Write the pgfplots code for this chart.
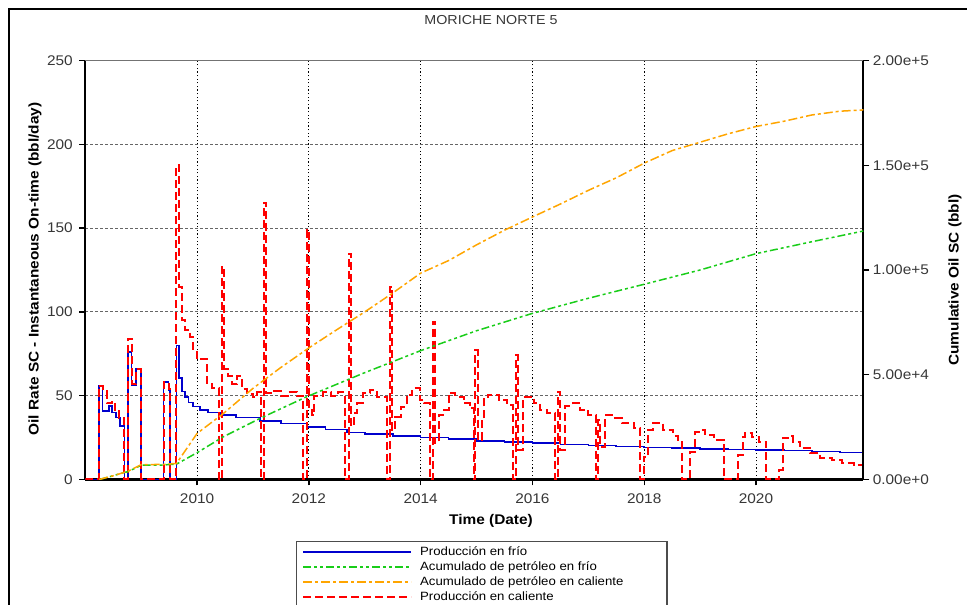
\documentclass[border=0pt]{standalone}
\usepackage{fontspec}
\setmainfont{Liberation Sans}[FakeStretch=1.1]
\usepackage{pgfplots}
\pgfplotsset{compat=1.18}

\definecolor{cblue}{RGB}{0,0,205}
\definecolor{cgreen}{RGB}{25,205,25}
\definecolor{corange}{RGB}{255,165,0}
\definecolor{cred}{RGB}{255,0,0}
\definecolor{tickgray}{RGB}{55,55,55}

\pgfplotsset{
  common/.style={
    scale only axis, width=778pt, height=419pt,
    at={(85.3pt,125.5pt)}, anchor=south west,
    xmin=2008, xmax=2021.92,
    axis line style={-, line width=2.2pt, black},
    tick align=outside, major tick length=6pt,
    tick style={black, line width=1.4pt},
    ticklabel style={font=\fontsize{14}{16}\selectfont, text=tickgray},
    /pgf/number format/assume math mode=true,
    /pgf/number format/1000 sep={},
    label style={font=\bfseries\fontsize{14}{16}\selectfont},
  }
}

\begin{document}
\begin{tikzpicture}
\useasboundingbox (0pt,0pt) rectangle (967pt,605pt);
\draw[line width=1.8pt] (9pt,-10pt) -- (9pt,596pt) -- (980pt,596pt);

% rates
\begin{axis}[common,
    ymin=0, ymax=250,
    axis x line*=bottom, axis y line*=left,
    xtick={2010,2012,2014,2016,2018,2020},
    ytick={0,50,100,150,200,250},
    xticklabel style={yshift=-5pt},
    yticklabel style={xshift=-3pt},
    xmajorgrids, ymajorgrids,
    x grid style={black, line width=0.8pt, dash pattern=on 1.2pt off 2.4pt},
    y grid style={black!60, line width=0.9pt, dash pattern=on 2.5pt off 2.5pt},
    xlabel={Time (Date)},
    xlabel style={at={(rel axis cs:0.5215,-0.099)}, anchor=center},
    ylabel={Oil Rate SC - Instantaneous On-time (bbl/day)},
    ylabel style={at={(rel axis cs:-0.0647,0.5024)}, anchor=center},
    title={MORICHE NORTE 5},
    title style={at={(rel axis cs:0.5215,1.0823)}, anchor=center,
                 font=\fontsize{13}{15}\selectfont, text=tickgray},
  ]
\addplot[const plot, cblue, line width=1.6pt] coordinates {
(2008.00,0) (2008.25,56) (2008.31,41) (2008.42,44) (2008.48,40) (2008.55,37)
(2008.62,32) (2008.70,0) (2008.76,76) (2008.83,56) (2008.91,66) (2009.00,0)
(2009.40,58) (2009.49,53) (2009.52,0) (2009.63,80) (2009.68,60.5) (2009.73,52.4)
(2009.78,49.4) (2009.85,46) (2009.93,43.5) (2010.05,41.5) (2010.20,40)
(2010.41,38.5) (2010.70,37) (2011.13,35) (2011.50,33.5) (2011.96,31.5)
(2012.30,29.8) (2012.68,28) (2013.00,27.2) (2013.50,26) (2014.00,25)
(2014.50,24) (2015.00,23) (2015.50,22.3) (2016.00,21.6) (2016.50,20.9)
(2017.00,20.3) (2017.50,19.7) (2018.00,19.2) (2018.50,18.7) (2019.00,18.2)
(2019.50,17.9) (2020.00,17.6) (2020.50,17.2) (2021.00,16.8) (2021.50,16.2)
(2021.92,15.6)};
\addplot[const plot, cred, line width=2pt, dash pattern=on 8pt off 4pt] coordinates {
(2008.00,0) (2008.25,56) (2008.31,53) (2008.38,45.5) (2008.47,46.5) (2008.53,41.5)
(2008.61,36.5) (2008.70,0) (2008.76,84) (2008.83,57) (2008.91,66) (2009.00,0)
(2009.40,58) (2009.49,54) (2009.52,0) (2009.63,187.5) (2009.68,115) (2009.73,95)
(2009.78,89) (2009.88,85) (2009.93,78) (2009.99,72) (2010.17,57.5) (2010.26,54.5)
(2010.40,0) (2010.44,127) (2010.48,66) (2010.56,62) (2010.63,57) (2010.72,62)
(2010.80,54) (2010.89,51) (2011.00,49) (2011.08,52) (2011.15,0) (2011.19,165)
(2011.24,51.5) (2011.38,53) (2011.50,50) (2011.62,52.5) (2011.78,50) (2011.90,0)
(2011.96,149) (2012.00,43.5) (2012.05,38.5) (2012.10,50) (2012.25,52) (2012.40,50)
(2012.52,52) (2012.64,0) (2012.71,134.5) (2012.76,31.5) (2012.80,39.5) (2012.86,45.5)
(2012.96,51.5) (2013.10,53.5) (2013.22,49.5) (2013.39,0) (2013.45,115) (2013.49,29.5)
(2013.55,37.5) (2013.64,43.5) (2013.75,50.5) (2013.85,54.5) (2013.98,47.5) (2014.06,45.5)
(2014.17,0) (2014.22,94) (2014.26,21.6) (2014.32,38.5) (2014.40,41.5) (2014.50,51.5)
(2014.62,49.5) (2014.77,45.5) (2014.88,42.5) (2014.95,0) (2014.98,77) (2015.02,23.6)
(2015.09,35.5) (2015.13,48.5) (2015.20,50.5) (2015.40,47.5) (2015.55,44.5) (2015.66,0)
(2015.71,74) (2015.75,17.6) (2015.84,49.5) (2016.02,45.5) (2016.14,41.5) (2016.26,39.5)
(2016.41,0) (2016.46,52.5) (2016.50,17.6) (2016.59,44) (2016.72,45.5) (2016.85,41.5)
(2017.00,38.5) (2017.14,0) (2017.17,35.5) (2017.21,19.6) (2017.30,38.5) (2017.45,36.5)
(2017.60,33.5) (2017.81,30.5) (2017.93,0) (2017.99,13.6) (2018.07,29.5) (2018.16,33.9)
(2018.34,29.5) (2018.52,26) (2018.60,23.6) (2018.67,0) (2018.82,16.6) (2018.91,28.5)
(2019.00,29.5) (2019.09,26.5) (2019.24,23.6) (2019.42,0) (2019.67,14.6) (2019.77,25.5)
(2019.81,27.9) (2019.93,25.5) (2020.05,22.6) (2020.18,0) (2020.42,5.7) (2020.48,24.6)
(2020.58,26) (2020.67,22.6) (2020.79,18.6) (2020.97,15.6) (2021.15,12.6) (2021.36,11.6)
(2021.54,9.7) (2021.75,8.7) (2021.92,8.7)};
\end{axis}

% cumulative
\begin{axis}[common,
    ymin=0, ymax=200000,
    axis x line=none, axis y line*=right,
    ytick={0,50000,100000,150000,200000},
    yticklabels={0.00e+0,5.00e+4,1.00e+5,1.50e+5,2.00e+5},
    scaled y ticks=false,
    ylabel={Cumulative Oil SC (bbl)},
    ylabel style={at={(rel axis cs:1.1179,0.476)}, anchor=center},
    legend style={at={(0.2785,-0.1588)}, anchor=north west, draw=none, fill=none,
      inner sep=0pt, row sep=3pt, column sep=8pt,
      font=\fontsize{12}{14}\selectfont,
      nodes={inner sep=0pt, text height=9pt, text depth=3pt}},
    legend cell align=left,
    legend image code/.code={\draw[#1] (0pt,0pt) -- (108pt,0pt);},
  ]
\addplot[forget plot, cgreen, line width=1.5pt, dash pattern=on 8pt off 3pt on 3pt off 3pt on 3pt off 3pt] coordinates {
(2008.25,0) (2008.50,1800) (2008.70,3400) (2008.76,3700) (2009.00,6800) (2009.40,6900)
(2009.52,7200) (2009.63,7300) (2010.00,12800) (2010.47,20400) (2011.13,29200)
(2011.96,39500) (2013.00,51000) (2014.00,61500) (2015.00,71000) (2016.00,79300)
(2017.00,86500) (2018.00,93200) (2019.00,100000) (2020.00,107800) (2021.00,113500)
(2021.92,118600)};
\addplot[forget plot, corange, line width=1.5pt, dash pattern=on 9pt off 3pt on 3pt off 3pt] coordinates {
(2008.25,0) (2008.50,1800) (2008.76,3900) (2009.00,7100) (2009.40,7200) (2009.52,7500)
(2009.63,7600) (2010.00,22000) (2010.47,31500) (2011.00,43500) (2011.50,53500)
(2012.00,62800) (2012.50,71500) (2013.00,80000) (2013.50,89000) (2014.00,98500)
(2014.50,104500) (2015.00,112000) (2015.50,119000) (2016.00,125300) (2016.50,131500)
(2017.00,138000) (2017.50,144000) (2018.00,151000) (2018.50,157000) (2019.00,161000)
(2019.50,165000) (2020.00,168500) (2020.50,171000) (2021.00,174000) (2021.50,175800)
(2021.92,176400)};
\addlegendimage{cblue, line width=1.6pt}
\addlegendentry{Producción en frío}
\addlegendimage{cgreen, line width=1.5pt, dash pattern=on 8pt off 3pt on 3pt off 3pt on 3pt off 3pt}
\addlegendentry{Acumulado de petróleo en frío}
\addlegendimage{corange, line width=1.5pt, dash pattern=on 9pt off 3pt on 3pt off 3pt}
\addlegendentry{Acumulado de petróleo en caliente}
\addlegendimage{cred, line width=2pt, dash pattern=on 8pt off 4pt}
\addlegendentry{Producción en caliente}
\end{axis}

\draw[black!55, line width=1pt] (85.3pt,544.5pt) -- (863.3pt,544.5pt);
\draw[black!70, line width=1.2pt] (296.7pt,-5pt) rectangle (667pt,63.3pt);
\end{tikzpicture}
\end{document}
